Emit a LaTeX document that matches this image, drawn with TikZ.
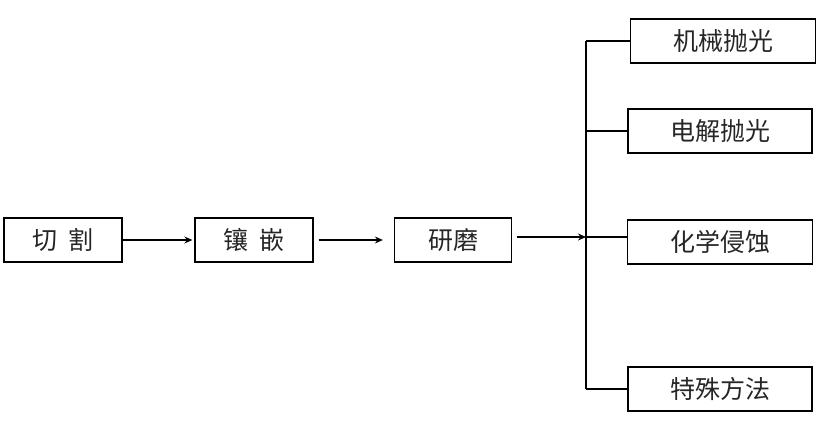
\documentclass[tikz,border=0pt]{standalone}
\usepackage{fontspec}
\setmainfont{Noto Sans CJK SC}
\usetikzlibrary{arrows.meta}
\tikzset{
  box/.style={draw, line width=1.3pt, minimum height=44pt, inner sep=0pt, font=\fontsize{25}{27}\selectfont, text=black!85},
  arr/.style={-{Stealth[length=8pt,width=7pt]}, line width=1.2pt},
}
\begin{document}
\begin{tikzpicture}[x=1pt,y=-1pt]
      \useasboundingbox (0,0) rectangle (829,430);
      \draw
        (63,240) node[box, minimum width=118pt] (cut){切\hspace{11pt}割}
        (254,240) node[box, minimum width=118pt] (mount){镶\hspace{11pt}嵌}
        (453,240) node[box, minimum width=117pt] (grind){研磨}
        (723,41) node[box, minimum width=185pt] (mech){机械抛光}
        (720,131) node[box, minimum width=184pt] (elec){电解抛光}
        (720,242) node[box, minimum width=185pt] (chem){化学侵蚀}
        (720,389) node[box, minimum width=184pt] (spec){特殊方法};
      \coordinate (hub) at (586,237);
      \begin{scope}[arr]
        \draw[shorten >=2pt] (cut) to (mount);
        \draw[shorten <=5pt, shorten >=11pt] (mount) to (grind);
        \draw[shorten <=5pt] (grind.east |- hub) to (hub);
      \end{scope}
      \begin{scope}[-, line width=1.2pt]
        \draw (hub |- mech) to (hub |- spec);
        \draw (hub |- mech) to (mech);
        \draw (hub |- elec) to (elec);
        \draw (hub) to (chem.west |- hub);
        \draw (hub |- spec) to (spec);
      \end{scope}
    \end{tikzpicture}
\end{document}
